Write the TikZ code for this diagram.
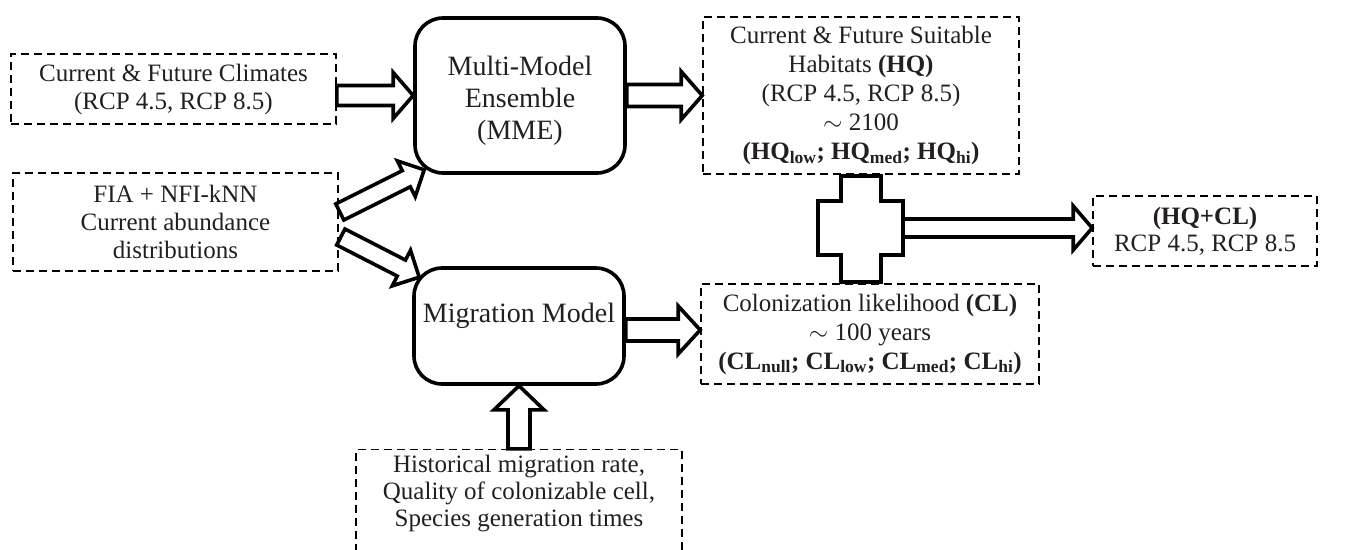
\documentclass[tikz,border=0pt]{standalone}
\usepackage{fontspec}
\setmainfont{Liberation Serif}
\usetikzlibrary{calc}
\definecolor{tcol}{RGB}{35,31,32}
% block arrow: #1 start, #2 tip, #3 shaft half width, #4 head half width, #5 head length
\newcommand{\blockarrow}[5]{%
  \coordinate (baC) at ($(#2)!#5!(#1)$);
  \draw[barrow] ($(#1)!#3!90:(#2)$) -- ($(baC)!#3!90:(#2)$) -- ($(baC)!#4!90:(#2)$)
     -- (#2) -- ($(baC)!#4!-90:(#2)$) -- ($(baC)!#3!-90:(#2)$) -- ($(#1)!#3!-90:(#2)$) -- cycle;}
\begin{document}
\begin{tikzpicture}[x=1pt,y=-1pt,
  txt/.style={text=tcol, align=center, font=\fontsize{25}{28}\selectfont},
  dbox/.style={txt, draw=black, line width=1.6pt, dash pattern=on 8pt off 5pt, inner sep=0pt},
  mbox/.style={draw=black, line width=3.6pt, rounded corners=28pt, align=center, text=tcol,
     font=\fontsize{28}{32}\selectfont, inner sep=0pt},
  mtext/.style={text=tcol, align=center, font=\fontsize{28}{32}\selectfont, inner sep=0pt},
  barrow/.style={draw=black, fill=white, line width=3.6pt, line join=miter},
  plusshape/.style={draw=black, fill=white, line width=3.6pt, line join=miter}]
\useasboundingbox (0,0) rectangle (1346,549);

% dashed boxes
\node[dbox, minimum width=325pt, minimum height=70pt] (clim) at (173.5,89)
  {Current \& Future Climates\\(RCP 4.5, RCP 8.5)};
\node[dbox, minimum width=325pt, minimum height=98pt] (fia) at (175.5,222)
  {FIA + NFI-kNN\\Current abundance\\distributions};
\node[dbox, font=\fontsize{25}{29}\selectfont, minimum width=316pt, minimum height=157pt] (hq) at (861,95.5)
  {Current \& Future Suitable\\Habitats \textbf{(HQ)}\\(RCP 4.5, RCP 8.5)\\$\sim$ 2100\\
   \textbf{(HQ\textsubscript{low}; HQ\textsubscript{med}; HQ\textsubscript{hi})}};
\node[dbox, font=\fontsize{25}{29}\selectfont, minimum width=338pt, minimum height=100pt] (cl) at (870,334)
  {Colonization likelihood \textbf{(CL)}\\$\sim$ 100 years\\
   \textbf{(CL\textsubscript{null}; CL\textsubscript{low}; CL\textsubscript{med}; CL\textsubscript{hi})}};
\node[dbox, font=\fontsize{25}{27}\selectfont, minimum width=224pt, minimum height=70pt] (hqcl) at (1205,231)
  {\textbf{(HQ+CL)}\\RCP 4.5, RCP 8.5};
\node[dbox, minimum width=326pt, minimum height=112pt, anchor=north,
  label={[txt, font=\fontsize{25}{27}\selectfont, inner sep=0pt, anchor=north, yshift=-6pt]north:Historical migration rate,\\Quality of colonizable cell,\\Species generation times}]
  (bot) at (519,448.8) {};

% model boxes
\node[mbox, minimum width=210pt, minimum height=155pt,
  label={[mtext, anchor=center, yshift=-5pt]center:Multi-Model\\Ensemble\\(MME)}] (mme) at (520,95.5) {};
\node[mbox, minimum width=210pt, minimum height=116pt, text height=20pt, text depth=27pt] (mig) at (519,326)
  {Migration Model};

% plus shape joining HQ and CL
\draw[plusshape] (841,175.8) -- (841,201) -- (818,201) -- (818,255) -- (841,255) -- (841,282.2)
  -- (881,282.2) -- (881,255) -- (903,255) -- (903,201) -- (881,201) -- (881,175.8) -- cycle;
\coordinate (plusR) at (903,228);

% block arrows
\coordinate (a1s) at (clim.east |- mme.west);
\blockarrow{a1s}{mme.west}{10pt}{23pt}{20pt}
\coordinate (a2t) at (hq.west |- mme.east);
\blockarrow{mme.east}{a2t}{11pt}{24pt}{21pt}
\coordinate (a3s) at ($(mig.east)+(0,4)$);
\coordinate (a3t) at (cl.west |- a3s);
\blockarrow{a3s}{a3t}{11pt}{24pt}{22pt}
\blockarrow{bot.north}{mig.south}{11pt}{25pt}{24pt}
\coordinate (a5s) at ($(fia.east)+(1,-10)$);
\coordinate (a5t) at ($(mme.south west)+(11,-5)$);
\blockarrow{a5s}{a5t}{9pt}{20pt}{20pt}
\coordinate (a6s) at ($(fia.east)+(2,15)$);
\coordinate (a6t) at ($(mig.north west)+(7,11)$);
\blockarrow{a6s}{a6t}{9pt}{20pt}{20pt}
\coordinate (a7t) at (hqcl.west |- plusR);
\blockarrow{plusR}{a7t}{9pt}{22pt}{19pt}
\end{tikzpicture}
\end{document}
